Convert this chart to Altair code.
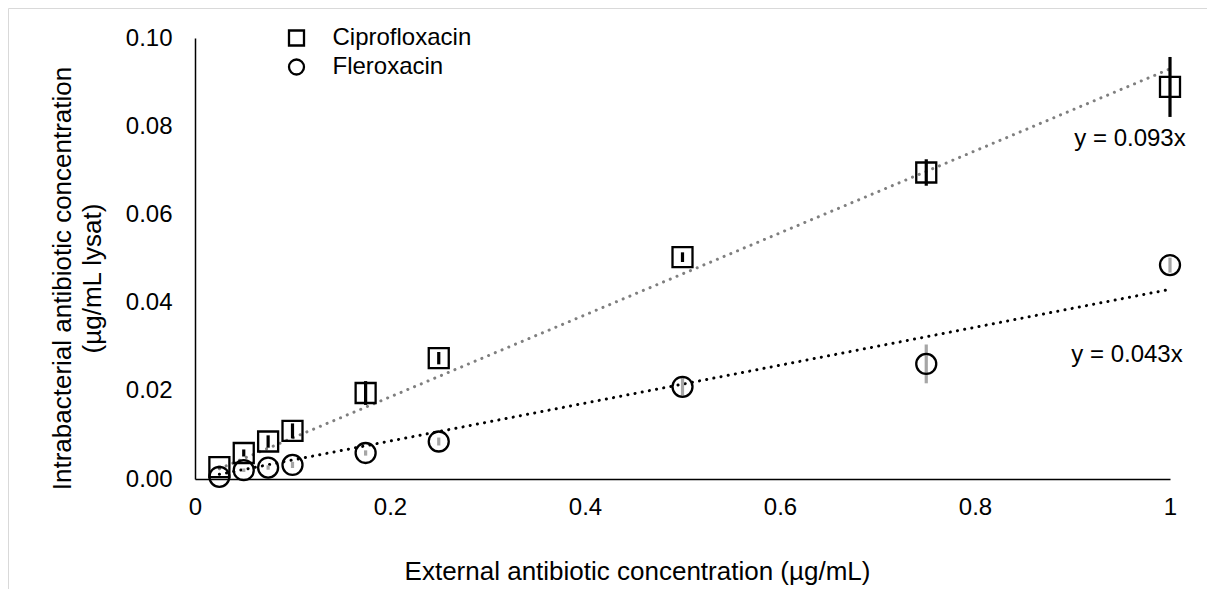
import altair as alt
import pandas as pd

# ---- data ----
x_ext = [0.025, 0.05, 0.075, 0.1, 0.175, 0.25, 0.5, 0.75, 1.0]
cipro_y = [0.0027, 0.0059, 0.0085, 0.0109, 0.0195, 0.0274, 0.0503, 0.0695, 0.0889]
cipro_err = [0.0003, 0.0008, 0.0014, 0.0017, 0.0027, 0.0014, 0.0011, 0.0030, 0.0068]
flero_y = [0.0005, 0.0020, 0.0026, 0.0032, 0.0059, 0.0085, 0.0209, 0.0261, 0.0485]
flero_err = [0.0002, 0.0004, 0.0005, 0.0007, 0.0006, 0.0009, 0.0020, 0.0044, 0.0017]
series_names = ["Ciprofloxacin", "Fleroxacin"]
slopes = [0.093, 0.043]
eq_labels = ["y = 0.093x", "y = 0.043x"]
trend_x = [0.025, 1.0]
x_ticks = [0, 0.2, 0.4, 0.6, 0.8, 1.0]
y_ticks = [0, 0.02, 0.04, 0.06, 0.08, 0.10]

FONT = "Liberation Sans"

rows = []
for s, ys, es in [(series_names[0], cipro_y, cipro_err), (series_names[1], flero_y, flero_err)]:
    for xv, yv, ev in zip(x_ext, ys, es):
        rows.append({"series": s, "x": xv, "y": yv, "lo": yv - ev, "hi": yv + ev})
df = pd.DataFrame(rows)

trend = pd.DataFrame([
    {"series": s, "x": xv, "y": m * xv}
    for s, m in zip(series_names, slopes) for xv in trend_x
])
eqs = pd.DataFrame([
    {"series": s, "x": 1.0, "y": m, "label": lab}
    for s, m, lab in zip(series_names, slopes, eq_labels)
])

x_scale = alt.Scale(domain=[0, 1], nice=False, zero=False)
y_scale = alt.Scale(domain=[0, 0.1], nice=False)

x_axis = alt.Axis(
    values=x_ticks, format="~g", grid=False, ticks=False, labelFlush=False,
    domainColor="black", domainWidth=1.5,
    labelFont=FONT, labelFontSize=24, labelColor="black", labelPadding=16,
    title="External antibiotic concentration (µg/mL)",
    titleFont=FONT, titleFontSize=26, titleFontWeight="normal", titleColor="black",
    titleX=442, titleY=92, titleBaseline="middle", titleAlign="center",
)
y_axis = alt.Axis(
    values=y_ticks, format=".2f", grid=False, ticks=False, labelFlush=False,
    domainColor="black", domainWidth=1.5,
    labelFont=FONT, labelFontSize=24, labelColor="black", labelPadding=23,
    title=["Intrabacterial antibiotic concentration", "(µg/mL lysat)"],
    titleFont=FONT, titleFontSize=26, titleFontWeight="normal", titleColor="black",
    titleLineHeight=30, titleAngle=270, titleX=-133, titleY=240,
    titleBaseline="middle", titleAlign="center",
)

X = alt.X("x:Q", scale=x_scale, axis=x_axis)
Y = alt.Y("y:Q", scale=y_scale, axis=y_axis)

frame = alt.Chart(pd.DataFrame({"d": [0]})).mark_rect(
    fillOpacity=0, stroke="#D9D9D9", strokeWidth=1
).encode(x=alt.value(-186.5), x2=alt.value(1400), y=alt.value(-29.5), y2=alt.value(900))

def trend_layer(name, color):
    return alt.Chart(trend).transform_filter(alt.datum.series == name).mark_line(
        color=color, strokeWidth=3, strokeDash=[0.1, 7.2], strokeCap="round"
    ).encode(x=X, y=Y)

def err_layer(name, color):
    return alt.Chart(df).transform_filter(alt.datum.series == name).mark_rule(
        color=color, strokeWidth=3.2
    ).encode(x=X, y=alt.Y("lo:Q", scale=y_scale, axis=y_axis), y2="hi:Q")

points = alt.Chart(df).mark_point(
    filled=False, size=400, strokeWidth=2.3, color="black", opacity=1
).encode(
    x=X, y=Y,
    shape=alt.Shape(
        "series:N",
        scale=alt.Scale(domain=series_names, range=["square", "circle"]),
        legend=alt.Legend(
            title=None, orient="none", legendX=89.5, legendY=-12,
            padding=0, labelFont=FONT, labelFontSize=24, labelColor="black",
            labelOffset=24, rowPadding=3,
            symbolSize=225, symbolStrokeWidth=2.3, symbolStrokeColor="black",
            symbolFillColor="transparent",
        ),
    ),
)

def eq_layer(name, dx, dy):
    return alt.Chart(eqs).transform_filter(alt.datum.series == name).mark_text(
        font=FONT, fontSize=24, color="black", align="center", baseline="middle",
        dx=dx, dy=dy
    ).encode(x=X, y=Y, text="label:N")

chart = alt.layer(
    frame,
    trend_layer(series_names[0], "#7F7F7F"),
    trend_layer(series_names[1], "black"),
    err_layer(series_names[0], "black"),
    err_layer(series_names[1], "#A6A6A6"),
    points,
    eq_layer(series_names[0], -40, 70),
    eq_layer(series_names[1], -43, 66),
).properties(
    width=975, height=441,
    autosize=alt.AutoSizeParams(type="none"),
    padding={"left": 187, "top": 30, "right": 37, "bottom": 110},
    background="white",
).configure_view(stroke=None)

chart.save("out.html", embed_options={"renderer": "svg", "actions": False})
